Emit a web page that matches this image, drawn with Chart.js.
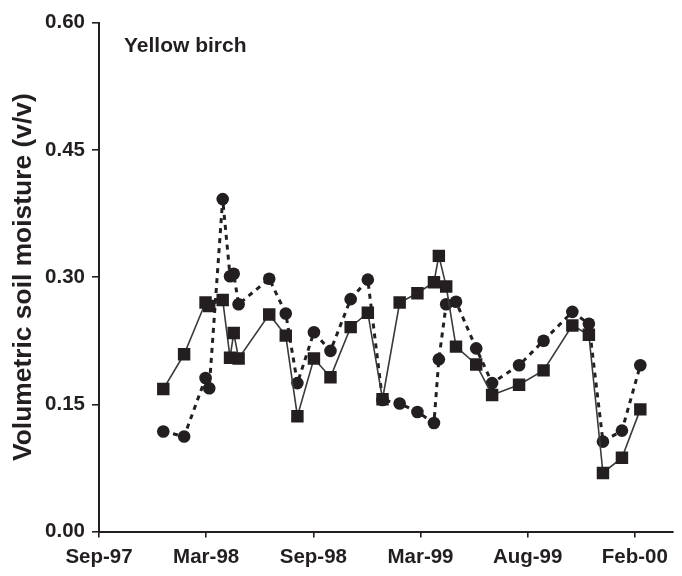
<!DOCTYPE html>
<html>
<head>
<meta charset="utf-8">
<script src="https://cdn.jsdelivr.net/npm/chart.js@4.4.1/dist/chart.umd.min.js"></script>
<style>
  html, body { margin: 0; padding: 0; background: #ffffff; }
  #wrap { width: 682px; height: 576px; position: relative; }
</style>
</head>
<body>
<div id="wrap"><canvas id="c" width="682" height="576"></canvas></div>
<script>
// ---- data ----
const panelTitle = "Yellow birch";
const yAxisTitle = "Volumetric soil moisture (v/v)";
const axisStartDate = "1997-09-26";   // date of the first (Sep-97) tick
const tickStepDays = 175;            // spacing of the date ticks
const tickLabels = ["Sep-97", "Mar-98", "Sep-98", "Mar-99", "Aug-99", "Feb-00"];
const yTicks = [0.00, 0.15, 0.30, 0.45, 0.60];

const sampleDates = [
  "1998-01-09","1998-02-12","1998-03-19","1998-03-25","1998-04-16","1998-04-28",
  "1998-05-04","1998-05-12","1998-07-01","1998-07-28","1998-08-16","1998-09-12",
  "1998-10-09","1998-11-11","1998-12-09","1999-01-02","1999-01-30","1999-02-28",
  "1999-03-27","1999-04-04","1999-04-16","1999-05-02","1999-06-04","1999-06-30",
  "1999-08-13","1999-09-22","1999-11-08","1999-12-05","1999-12-28","2000-01-28",
  "2000-02-27"
];
// squares, solid line
const squareSeries = [
  0.168, 0.209, 0.270, 0.266, 0.273, 0.205,
  0.234, 0.204, 0.256, 0.231, 0.136, 0.204,
  0.182, 0.241, 0.258, 0.156, 0.270, 0.281,
  0.294, 0.325, 0.289, 0.218, 0.197, 0.161,
  0.173, 0.190, 0.243, 0.232, 0.069, 0.087,
  0.144
];
// circles, dashed line
const circleSeries = [
  0.118, 0.112, 0.181, 0.169, 0.392, 0.301,
  0.304, 0.268, 0.298, 0.257, 0.175, 0.235,
  0.213, 0.274, 0.297, 0.155, 0.151, 0.141,
  0.128, 0.203, 0.268, 0.271, 0.216, 0.175,
  0.196, 0.225, 0.259, 0.245, 0.106, 0.119,
  0.196
];

// ---- helpers ----
function dayOffset(s) {
  const a = s.split("-").map(Number), b = axisStartDate.split("-").map(Number);
  return (Date.UTC(a[0], a[1]-1, a[2]) - Date.UTC(b[0], b[1]-1, b[2])) / 86400000;
}
const xs = sampleDates.map(dayOffset);
const sqData = xs.map((x, i) => ({ x: x, y: squareSeries[i] }));
const ciData = xs.map((x, i) => ({ x: x, y: circleSeries[i] }));
const tickValues = tickLabels.map((_, i) => i * tickStepDays);

const INK = "#231f20";
const FAMILY = "'Liberation Sans', Arial, Helvetica, sans-serif";
const tickFont = { family: FAMILY, size: 20.5, weight: "bold" };

const panelLabel = {
  id: "panelLabel",
  afterDraw(chart) {
    const ctx = chart.ctx;
    ctx.save();
    ctx.fillStyle = INK;
    ctx.font = "bold 21px " + FAMILY;
    ctx.textBaseline = "middle";
    ctx.textAlign = "left";
    ctx.fillText(panelTitle, 124, 46);
    ctx.restore();
  }
};

new Chart(document.getElementById("c"), {
  type: "scatter",
  data: {
    datasets: [
      {
        label: "squares",
        data: sqData,
        showLine: true,
        borderColor: "#3a3a3a",
        borderWidth: 1.6,
        pointStyle: "rect",
        pointRadius: 8.8,
        pointHoverRadius: 8.8,
        pointBackgroundColor: INK,
        pointBorderColor: INK,
        pointBorderWidth: 0,
        tension: 0
      },
      {
        label: "circles",
        data: ciData,
        showLine: true,
        borderColor: INK,
        borderWidth: 3,
        borderDash: [5, 5],
        pointStyle: "circle",
        pointRadius: 6.3,
        pointHoverRadius: 6.3,
        pointBackgroundColor: INK,
        pointBorderColor: INK,
        pointBorderWidth: 0,
        tension: 0
      }
    ]
  },
  options: {
    responsive: false,
    animation: false,
    events: [],
    layout: { padding: { left: 0, right: 0, top: 22.7, bottom: 0 } },
    plugins: { legend: { display: false }, title: { display: false }, tooltip: { enabled: false } },
    scales: {
      x: {
        type: "linear",
        min: 0,
        max: 937.7,
        afterBuildTicks(scale) { scale.ticks = tickValues.map(v => ({ value: v })); },
        afterFit(scale) { scale.height = 44.5; scale.paddingRight = 0; scale.paddingLeft = 0; },
        ticks: {
          autoSkip: false,
          maxRotation: 0,
          color: INK,
          font: tickFont,
          padding: 8,
          callback(v) { const i = tickValues.indexOf(v); return i >= 0 ? tickLabels[i] : ""; }
        },
        grid: { drawOnChartArea: false, drawTicks: true, tickLength: 6, color: INK, lineWidth: 1.6 },
        border: { display: true, color: INK, width: 2 }
      },
      y: {
        min: 0,
        max: 0.6,
        afterBuildTicks(scale) { scale.ticks = yTicks.map(v => ({ value: v })); },
        afterFit(scale) { scale.width = 99; },
        ticks: {
          color: INK,
          font: tickFont,
          padding: 7,
          callback(v) { return Number(v).toFixed(2); }
        },
        title: {
          display: true,
          text: yAxisTitle,
          color: INK,
          font: { family: FAMILY, size: 26.4, weight: "bold" },
          padding: { top: 8, bottom: 0 }
        },
        grid: { drawOnChartArea: false, drawTicks: true, tickLength: 7, color: INK, lineWidth: 1.6 },
        border: { display: true, color: INK, width: 2 }
      }
    }
  },
  plugins: [panelLabel]
});
</script>
</body>
</html>
